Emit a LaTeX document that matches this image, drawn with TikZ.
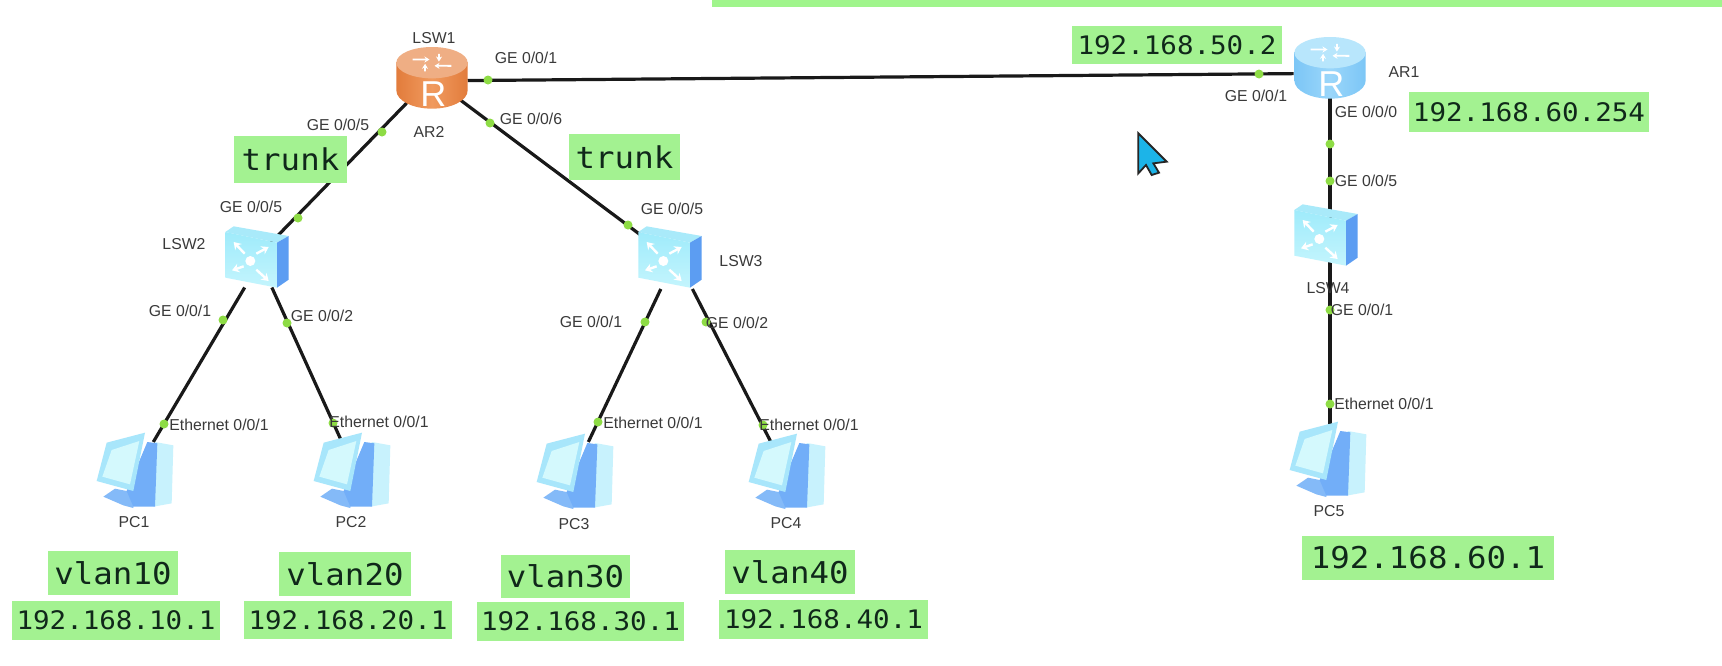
\documentclass[tikz,border=0pt]{standalone}
\usepackage{fontspec}
\setmainfont{Liberation Sans}
\newfontfamily\monolab[FakeStretch=1.08]{DejaVu Sans Mono}
\usetikzlibrary{arrows.meta}
\definecolor{lab}{HTML}{A3F291}
\definecolor{bar}{HTML}{A0F58C}
\definecolor{dotg}{HTML}{8EDC45}
\definecolor{txt}{HTML}{3A3A3A}
\definecolor{monotxt}{HTML}{10281A}
\definecolor{roedge}{HTML}{E27C3C}
\definecolor{romid}{HTML}{F09A5E}
\definecolor{rotop}{HTML}{EFAE84}
\definecolor{rbedge}{HTML}{7CC6F6}
\definecolor{rbmid}{HTML}{9AD6FA}
\definecolor{rbtop}{HTML}{B8E6FC}
\definecolor{swtop}{HTML}{A9EAFA}
\definecolor{swtopf}{HTML}{9FEBFB}
\definecolor{swbot}{HTML}{C4F5FD}
\definecolor{swside}{HTML}{5C9DF2}
\definecolor{pcbase}{HTML}{84BAF8}
\definecolor{pctower}{HTML}{C8F2FD}
\definecolor{pcside}{HTML}{72AEF8}
\definecolor{pcmon}{HTML}{A8E6FB}
\definecolor{pcscr}{HTML}{D4F9FD}
\definecolor{curs}{HTML}{1CB4E8}
\tikzset{
  x=1pt,y=-1pt,
  glab/.style={fill=lab,inner sep=0pt,text=monotxt,align=center},
  ipsmall/.style={glab,font=\monolab\fontsize{25.5}{28}\selectfont},
  iplarge/.style={glab,font=\monolab\fontsize{30}{32}\selectfont},
  small/.style={font=\fontsize{15.8}{18}\selectfont,text=txt,inner sep=0pt},
  port/.style={circle,fill=dotg,inner sep=0pt,minimum size=9pt},
  link/.style={draw=black!90,line width=3.2pt},
  devbox/.style={inner sep=0pt,outer sep=0pt},
  whitearrow/.style={draw=white,line width=2.4pt,-{Stealth[length=7pt,width=9pt]}},
}
\newcommand{\routerIcon}[5]{%
  \begin{scope}[shift={(#1,#2)},scale=1/3,shift={(-273,-233)}]
    \path[left color=#3,right color=#3,middle color=#4]
      (166,185) -- (166,270) arc[start angle=180,end angle=0,x radius=107,y radius=55]
      -- (380,185) -- cycle;
    \fill[#5] (273,187) ellipse[x radius=107,y radius=47];
    \foreach \a in {20,110,200,290}{
      \draw[draw=white,line width=1.8pt,-{Stealth[length=5pt,width=6pt]}]
        ({273+62*cos(\a)},{187+28*sin(\a)}) -- ({273+22*cos(\a+50)},{187+10*sin(\a+50)});
    }
    \node[text=white,inner sep=0pt,font=\fontsize{36}{36}\selectfont] at (277,282) {R};
  \end{scope}}
\newcommand{\switchIcon}[2]{%
  \begin{scope}[shift={(#1,#2)},scale=1/3,shift={(-320,-200)}]
    \fill[fill=swtop] (225,125) -- (250,108) -- (415,137) -- (380,157) -- cycle;
    \path[top color=swtopf,bottom color=swbot] (225,125) -- (380,157) -- (380,292) -- (225,262) -- cycle;
    \fill[fill=swside] (380,157) -- (415,137) -- (415,268) -- (380,292) -- cycle;
    \fill[white] (300,212) circle (15);
    \draw[whitearrow] (283,190) -- (250,155);
    \draw[whitearrow] (318,190) -- (355,170);
    \draw[whitearrow] (280,228) -- (245,240);
    \draw[whitearrow] (318,238) -- (355,272);
  \end{scope}}
\newcommand{\pcIcon}[2]{%
  \begin{scope}[shift={(#1,#2)},scale=1/3,shift={(-195,-182)}]
    \fill[fill=pcbase] (100,262) -- (135,238) -- (195,250) -- (190,296) -- (160,288) -- cycle;
    \fill[fill=pctower] (255,98) -- (310,108) -- (305,282) -- (250,292) -- cycle;
    \fill[fill=pcside] (232,98) -- (262,102) -- (255,292) -- (190,292) -- (170,245) -- cycle;
    \fill[fill=pcmon] (110,100) -- (225,70) -- (190,245) -- (80,215) -- cycle;
    \fill[fill=pcscr] (125,122) -- (208,95) -- (180,225) -- (97,202) -- cycle;
  \end{scope}}
\begin{document}
\begin{tikzpicture}
\useasboundingbox (0,0) rectangle (1722,665);
\fill[white] (0,0) rectangle (1722,665);
\fill[bar] (712,0) rectangle (1722,7);

% device placeholders for connectors
\node[devbox,minimum width=73pt,minimum height=61pt] (LSW1) at (431,78) {};
\node[devbox,minimum width=73pt,minimum height=63pt] (AR1) at (1330,68.5) {};
\node[devbox,minimum width=63pt,minimum height=61pt] (LSW2) at (257,257) {};
\node[devbox,minimum width=65pt,minimum height=64pt] (LSW3) at (670,257) {};
\node[devbox,minimum width=66pt,minimum height=63pt] (LSW4) at (1326,235.5) {};
\node[devbox,minimum width=76pt,minimum height=66pt] (PC1) at (135,475) {};
\node[devbox,minimum width=76pt,minimum height=66pt] (PC2) at (352,475) {};
\node[devbox,minimum width=76pt,minimum height=66pt] (PC3) at (575,475) {};
\node[devbox,minimum width=76pt,minimum height=66pt] (PC4) at (787,475) {};
\node[devbox,minimum width=76pt,minimum height=64pt] (PC5) at (1328,462) {};

% connectors
\draw[link] (LSW1.-4) -- (AR1.188);
\draw[link] (LSW1.center) -- (LSW2.center);
\draw[link] (LSW1.center) -- (LSW3.center);
\draw[link] (LSW2.-112) -- (PC1.61);
\draw[link] (LSW2.-64) -- (PC2.107);
\draw[link] (LSW3.-106) -- (PC3.68);
\draw[link] (LSW3.-55) -- (PC4.116);
\draw[link] (AR1.center) -- (AR1.center |- LSW4.center);
\draw[link] (AR1.center |- LSW4.center) -- (AR1.center |- PC5.north);

% icons
\routerIcon{432}{78}{roedge}{romid}{rotop}
\routerIcon{1330}{68}{rbedge}{rbmid}{rbtop}
\switchIcon{257}{257}
\switchIcon{670}{257}
\switchIcon{1326}{235}
\pcIcon{135}{470}
\pcIcon{352}{470}
\pcIcon{575}{471}
\pcIcon{787}{471}
\pcIcon{1328}{459}

% ports
\foreach \n/\x/\y in {a/382/132,b/488/80,c/490/123,d/298/218,e/223/320,f/287/323,
  g/164/424,h/333/423,i/628/225,j/645/322,k/706/322,l/598/422,m/763/425,
  n/1259/74,o/1330/144,q/1330/181,r/1330/310,s/1330/404}{
  \node[port] (port\n) at (\x,\y) {};
}

% small labels
\node[small] (t1) at (434,38) {LSW1};
\node[small] (t2) at (526,58) {GE 0/0/1};
\node[small] (t3) at (531,119) {GE 0/0/6};
\node[small] (t4) at (429,132) {AR2};
\node[small] (t5) at (338,125) {GE 0/0/5};
\node[small] (t6) at (251,207) {GE 0/0/5};
\node[small] (t7) at (184,244) {LSW2};
\node[small] (t8) at (180,311) {GE 0/0/1};
\node[small] (t9) at (322,316) {GE 0/0/2};
\node[small] (t10) at (219,425) {Ethernet 0/0/1};
\node[small] (t11) at (134,522) {PC1};
\node[small] (t12) at (379,422) {Ethernet 0/0/1};
\node[small] (t13) at (351,522) {PC2};
\node[small] (t14) at (653,423) {Ethernet 0/0/1};
\node[small] (t15) at (574,524) {PC3};
\node[small] (t16) at (809,425) {Ethernet 0/0/1};
\node[small] (t17) at (786,523) {PC4};
\node[small] (t18) at (672,209) {GE 0/0/5};
\node[small] (t19) at (741,261) {LSW3};
\node[small] (t20) at (591,322) {GE 0/0/1};
\node[small] (t21) at (737,323) {GE 0/0/2};
\node[small] (t22) at (1404,72) {AR1};
\node[small] (t23) at (1256,96) {GE 0/0/1};
\node[small] (t24) at (1366,112) {GE 0/0/0};
\node[small] (t25) at (1366,181) {GE 0/0/5};
\node[small] (t26) at (1328,288) {LSW4};
\node[small] (t27) at (1362,310) {GE 0/0/1};
\node[small] (t28) at (1384,404) {Ethernet 0/0/1};
\node[small] (t29) at (1329,511) {PC5};

% green labels
\node[iplarge,minimum width=113pt,minimum height=47pt] (g1) at (290.5,159.5) {trunk};
\node[iplarge,minimum width=111pt,minimum height=46pt] (g2) at (624.5,157) {trunk};
\node[ipsmall,minimum width=210pt,minimum height=38pt] (g3) at (1177,45) {192.168.50.2};
\node[ipsmall,minimum width=240pt,minimum height=40pt] (g4) at (1529,112) {192.168.60.254};
\node[iplarge,minimum width=252pt,minimum height=44pt] (g5) at (1428,558) {192.168.60.1};
\node[iplarge,minimum width=130pt,minimum height=44pt] (g6) at (113,573) {vlan10};
\node[ipsmall,minimum width=208pt,minimum height=39pt] (g7) at (116,620.5) {192.168.10.1};
\node[iplarge,minimum width=132pt,minimum height=44pt] (g8) at (345,574) {vlan20};
\node[ipsmall,minimum width=208pt,minimum height=38pt] (g9) at (348,620) {192.168.20.1};
\node[iplarge,minimum width=129pt,minimum height=43pt] (g10) at (565.5,576.5) {vlan30};
\node[ipsmall,minimum width=207pt,minimum height=39pt] (g11) at (580.5,621.5) {192.168.30.1};
\node[iplarge,minimum width=130pt,minimum height=44pt] (g12) at (790,572) {vlan40};
\node[ipsmall,minimum width=209pt,minimum height=39pt] (g13) at (823.5,619.5) {192.168.40.1};

% mouse cursor
\begin{scope}[shift={(1060,0)},scale=1/3]
  \filldraw[fill=curs,draw=black!85,line width=1.8pt,line join=miter]
    (235,400) -- (320,485) -- (280,490) -- (297,518) -- (275,525) -- (258,495) -- (235,520) -- cycle;
\end{scope}
\end{tikzpicture}
\end{document}
